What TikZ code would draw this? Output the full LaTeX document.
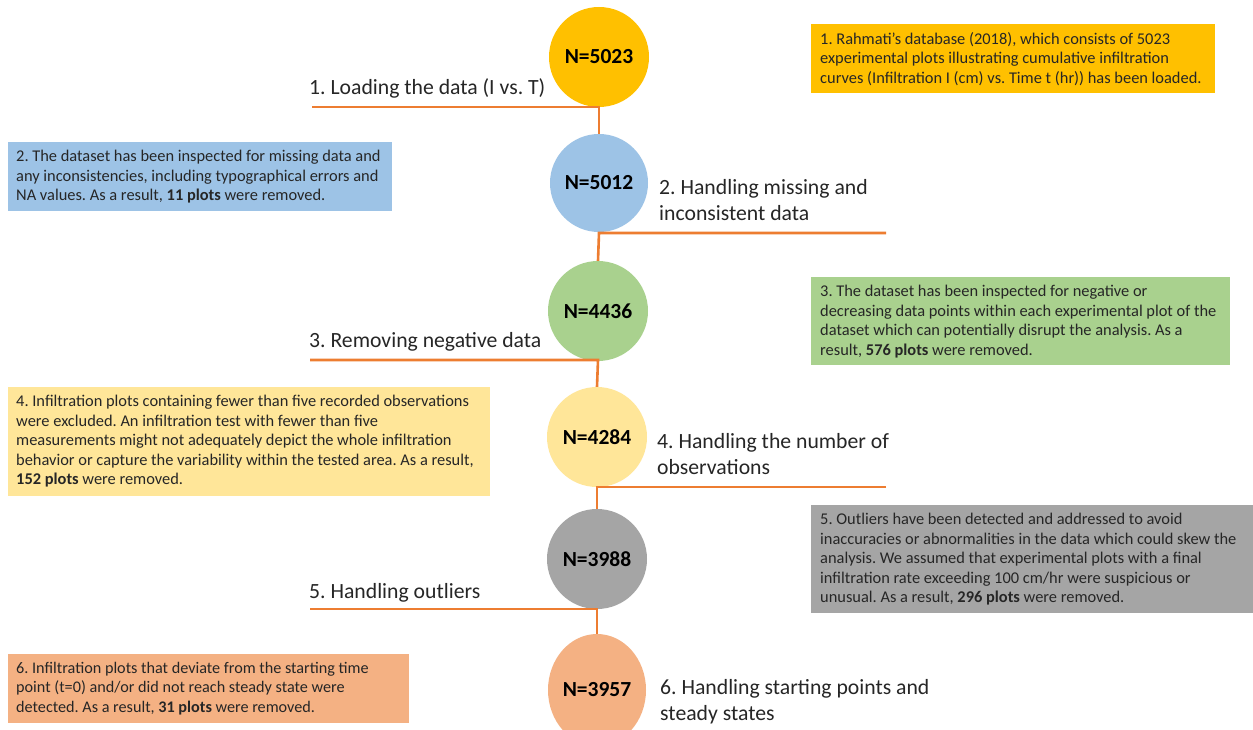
\documentclass[tikz,border=0pt]{standalone}
\usepackage{fontspec}
\setmainfont{Carlito}
\usetikzlibrary{shapes.geometric}
\frenchspacing
\definecolor{lineor}{HTML}{ED7D31}
\definecolor{cyel}{HTML}{FFC000}
\definecolor{cblue}{HTML}{9DC3E6}
\definecolor{cgreen}{HTML}{A9D18E}
\definecolor{clyel}{HTML}{FFE699}
\definecolor{cgray}{HTML}{A5A5A5}
\definecolor{csal}{HTML}{F4B183}
\definecolor{txt}{HTML}{262626}
\begin{document}
\begin{tikzpicture}[x=1pt,y=-1pt,
  circ/.style={circle,minimum size=100pt,inner sep=0pt,font=\fontsize{21.5}{24}\selectfont\bfseries},
  conn/.style={draw=lineor,line width=2.6pt},
  lab/.style={font=\fontsize{21.7}{26}\selectfont,text=txt,inner sep=0pt,align=left},
  boxfill/.style={anchor=north west,inner sep=0pt},
  boxtext/.style={anchor=north west,inner sep=0pt,align=left,text=txt,
    font=\fontsize{16.4}{19.5}\selectfont}]
\useasboundingbox (0,0) rectangle (1253,730);
\fill[white] (0,0) rectangle (1253,730);
% circles
\node[circ,fill=cyel] (c1) at (599,57) {N=5023};
\node[circ,fill=cblue,minimum size=98pt] (c2) at (599,183) {N=5012};
\node[circ,fill=cgreen] (c3) at (598,311) {N=4436};
\node[circ,fill=clyel] (c4) at (597,437) {N=4284};
\node[circ,fill=cgray] (c5) at (597,559) {N=3988};
\node[ellipse,inner sep=0pt,minimum width=98pt,minimum height=112pt,fill=csal,font=\fontsize{21.5}{24}\selectfont\bfseries] (c6) at (597,690) {N=3957};
% coordinates for branch ends
\coordinate (e1) at (312,107);
\coordinate (e2) at (886,233);
\coordinate (e3) at (310,360);
\coordinate (e4) at (886,487);
\coordinate (e5) at (310,609);
\coordinate (j1) at (599,107);
\coordinate (j2) at (599,233);
\coordinate (j3) at (598,360);
\coordinate (j4) at (597,487);
\coordinate (j5) at (597,609);
% connectors
\draw[conn] (e1) -- (j1) -- (c2.north);
\draw[conn] (e2) -- (j2) -- (c3.north);
\draw[conn] (e3) -- (j3) -- (c4.north);
\draw[conn] (e4) -- (j4) -- (c5.north);
\draw[conn] (e5) -- (j5) -- (c6.north);
% step labels
\node[lab,anchor=base west] (l1) at (309,95) {1. Loading the data (I vs. T)};
\node[lab,anchor=base west] (l2) at (659,221) {2. Handling missing and\\inconsistent data};
\node[lab,anchor=base west] (l3) at (309,347) {3. Removing negative data};
\node[lab,anchor=base west] (l4) at (657,474) {4. Handling the number of\\observations};
\node[lab,anchor=base west] (l5) at (309,598) {5. Handling outliers};
\node[lab,anchor=base west] (l6) at (660,720) {6. Handling starting points and\\steady states};
% info boxes
\node[boxfill,fill=cyel,minimum width=404pt,minimum height=69pt] (b1) at (811,24) {};
\node[boxtext] (t1) at ([shift={(9,8)}]b1.north west)
 {1. Rahmati’s database (2018), which consists of 5023\\experimental plots illustrating cumulative infiltration\\curves (Infiltration I (cm) vs. Time t (hr)) has been loaded.};
\node[boxfill,fill=cblue,minimum width=384pt,minimum height=69pt] (b2) at (8,142) {};
\node[boxtext] (t2) at ([shift={(8,8)}]b2.north west)
 {2. The dataset has been inspected for missing data and\\any inconsistencies, including typographical errors and\\NA values. As a result, \textbf{11 plots} were removed.};
\node[boxfill,fill=cgreen,minimum width=419pt,minimum height=88pt] (b3) at (811,277) {};
\node[boxtext] (t3) at ([shift={(9,8)}]b3.north west)
 {3. The dataset has been inspected for negative or\\decreasing data points within each experimental plot of the\\dataset which can potentially disrupt the analysis. As a\\result, \textbf{576 plots} were removed.};
\node[boxfill,fill=clyel,minimum width=482pt,minimum height=109pt] (b4) at (8,387) {};
\node[boxtext] (t4) at ([shift={(8,8)}]b4.north west)
 {4. Infiltration plots containing fewer than five recorded observations\\were excluded. An infiltration test with fewer than five\\measurements might not adequately depict the whole infiltration\\behavior or capture the variability within the tested area. As a result,\\\textbf{152 plots} were removed.};
\node[boxfill,fill=cgray,minimum width=442pt,minimum height=108pt] (b5) at (811,505) {};
\node[boxtext] (t5) at ([shift={(9,8)}]b5.north west)
 {5. Outliers have been detected and addressed to avoid\\inaccuracies or abnormalities in the data which could skew the\\analysis. We assumed that experimental plots with a final\\infiltration rate exceeding 100 cm/hr were suspicious or\\unusual. As a result, \textbf{296 plots} were removed.};
\node[boxfill,fill=csal,minimum width=401pt,minimum height=69pt] (b6) at (8,654) {};
\node[boxtext,font=\fontsize{16.2}{19.5}\selectfont] (t6) at ([shift={(8,8)}]b6.north west)
 {6. Infiltration plots that deviate from the starting time\\point (t=0) and/or did not reach steady state were\\detected. As a result, \textbf{31 plots} were removed.};
\end{tikzpicture}
\end{document}
